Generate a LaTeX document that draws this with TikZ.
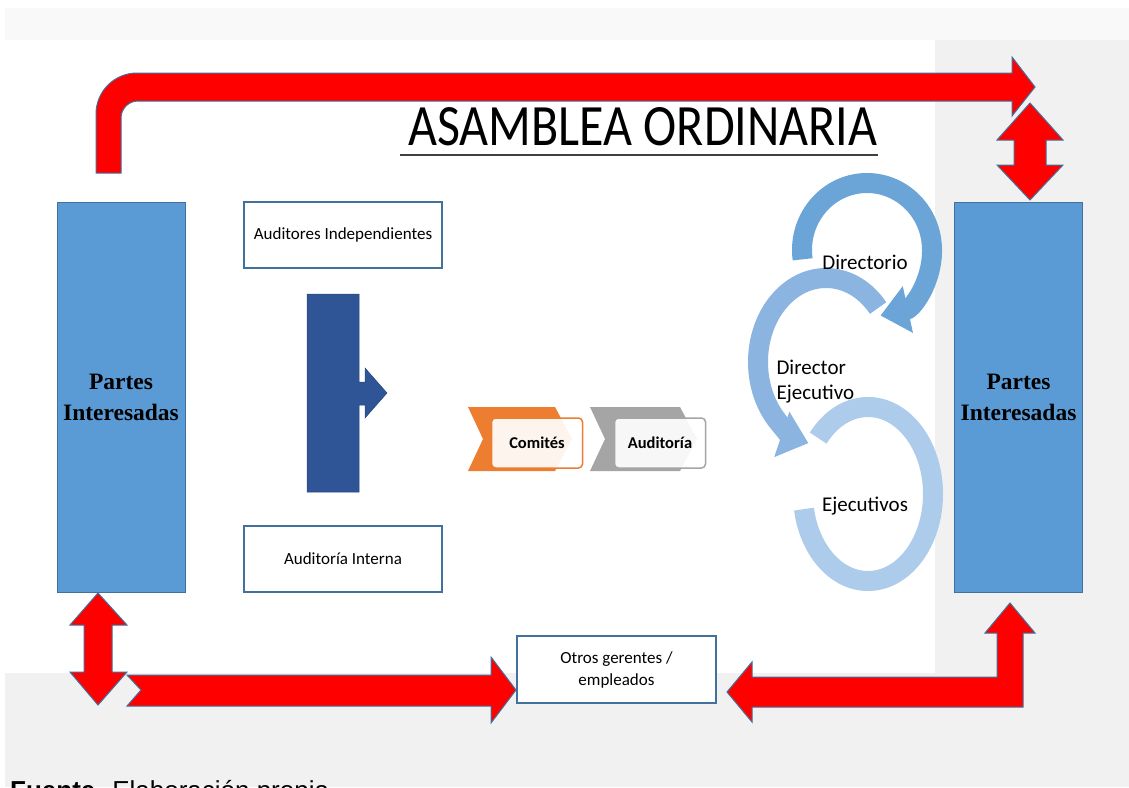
\documentclass[tikz,border=0pt]{standalone}
\usepackage{fontspec}
\usepackage{graphicx}
\setmainfont{Carlito}
\newfontfamily\partesfont{Liberation Serif}
\newfontfamily\fuentefont{Liberation Sans}
\usetikzlibrary{arrows.meta, positioning}
\definecolor{azul}{HTML}{5B9BD5}
\definecolor{borde}{HTML}{41719C}
\definecolor{azuloscuro}{HTML}{2F5597}
\definecolor{naranja}{HTML}{ED7D31}
\definecolor{gris}{HTML}{A5A5A5}
\definecolor{anilloA}{HTML}{6BA5D7}
\definecolor{anilloB}{HTML}{8CB4E1}
\definecolor{anilloC}{HTML}{ADCBEA}
\definecolor{fondo}{HTML}{F1F1F1}

\begin{document}
\begin{tikzpicture}[x=1pt, y=-1pt,
    partes/.style={draw=borde, fill=azul, line width=1pt, minimum width=128pt, minimum height=390pt,
      align=center, font=\partesfont\bfseries\fontsize{23.5}{31}\selectfont},
    caja/.style={draw=borde, fill=white, line width=1.2pt, minimum width=198pt, minimum height=66pt,
      align=center, font=\fontsize{17}{22}\selectfont},
    redarrow/.style={fill=red, draw=borde, line width=1pt, line join=miter},
    ring/.style={line width=20pt, -{Triangle[width=46pt, length=28pt]}},
    etiqueta/.style={draw=#1, fill=white, fill opacity=0.92, text opacity=1, rounded corners=4pt,
      line width=1.5pt, minimum width=91pt, minimum height=50pt, font=\bfseries\fontsize{16.5}{18}\selectfont},
    anillo/.style={font=\fontsize{21}{25}\selectfont, align=left}
  ]
  \useasboundingbox (0,0) rectangle (1129,787);
  % page background
  \fill[white] (0,0) rectangle (1129,787);
  \fill[fondo!45] (5,8) rectangle (1129,40);
  \fill[fondo] (935,40) rectangle (1129,673);
  \fill[fondo] (5,673) rectangle (1129,787);

  % title
  \node[anchor=base west, inner sep=0] (titulo) at (408,145) {\resizebox{469pt}{38pt}{ASAMBLEA ORDINARIA}};
  \draw[line width=2pt, black!75] (400,155) -- (878,155);

  % stakeholders
  \node[partes] (pL) at (121,397) {Partes\\Interesadas};
  \node[partes] (pR) at (1018.5,397) {Partes\\Interesadas};

  % audit boxes
  \node[caja] (indep) at (343,235) {Auditores Independientes};
  \node[caja] (interna) at (343,559) {Auditoría Interna};
  \node[caja, minimum width=199pt, minimum height=67pt] (otros) at (616.5,669.5) {Otros gerentes /\\empleados};

  % dark blue bar with arrow
  \filldraw[fill=azuloscuro, draw=azuloscuro!85!black, line width=0.5pt]
    (307,294) -- (359,294) -- (359,382) -- (365,382) -- (365,368) -- (387,393) -- (365,418)
    -- (365,405) -- (359,405) -- (359,492) -- (307,492) -- cycle;

  % chevrons
  \fill[naranja] (468,407) -- (555,407) -- (572,439) -- (555,471) -- (468,471) -- (483,439) -- cycle;
  \node[etiqueta=naranja] (comites) at (537,443) {Comités};
  \fill[gris] (590,407) -- (680,407) -- (697,439) -- (680,471) -- (590,471) -- (605,439) -- cycle;
  \node[etiqueta=gris] (auditoria) at (660,443) {Auditoría};

  % circular arrows
  \draw[ring, anilloC, -] (868,494) ++(220:65 and 87) arc[start angle=220, end angle=530, x radius=65, y radius=87];
  \draw[ring, anilloB] (826,362) ++(320:68 and 84) arc[start angle=320, end angle=105, x radius=68, y radius=84];
  \draw[ring, anilloA] (867,250) ++(172:65 and 67) arc[start angle=172, end angle=438, x radius=65, y radius=67];
  \node[anillo] (dir) at (865,262) {Directorio};
  \node[anillo, anchor=west] (dirEj) at (773,382) {Director\\Ejecutivo};
  \node[anillo] (ejec) at (865,506) {Ejecutivos};

  % red arrows
  \draw[redarrow] (96,173) -- (96,114) arc[start angle=180, end angle=270, radius=41] -- (1012,73)
    -- (1012,57) -- (1035,87) -- (1012,116) -- (1012,101) -- (138,101)
    arc[start angle=270, end angle=180, radius=17] -- (121,173) -- cycle;
  \draw[redarrow] (1030,103) -- (1063,140) -- (1046,140) -- (1046,165) -- (1063,165) -- (1030,200)
    -- (997,165) -- (1014,165) -- (1014,140) -- (997,140) -- cycle;
  \draw[redarrow] (98,593) -- (127,625) -- (112,625) -- (112,672) -- (127,672) -- (98,705)
    -- (70,672) -- (84,672) -- (84,625) -- (70,625) -- cycle;
  \draw[redarrow] (127,675) -- (491,675) -- (491,657) -- (516,690) -- (491,723) -- (491,706)
    -- (127,706) -- (141,690) -- cycle;
  \draw[redarrow] (727,692) -- (752,662) -- (752,677) -- (997,677) -- (997,633) -- (985,633)
    -- (1010,603) -- (1035,633) -- (1023,633) -- (1023,707) -- (752,707) -- (752,722) -- cycle;

  % source line, cut by the page edge as in the original
  \node[anchor=base west, inner sep=0, font=\fuentefont\fontsize{26}{30}\selectfont] (fuente) at (10,799)
    {\textbf{Fuente.} Elaboración propia};
\end{tikzpicture}
\end{document}
